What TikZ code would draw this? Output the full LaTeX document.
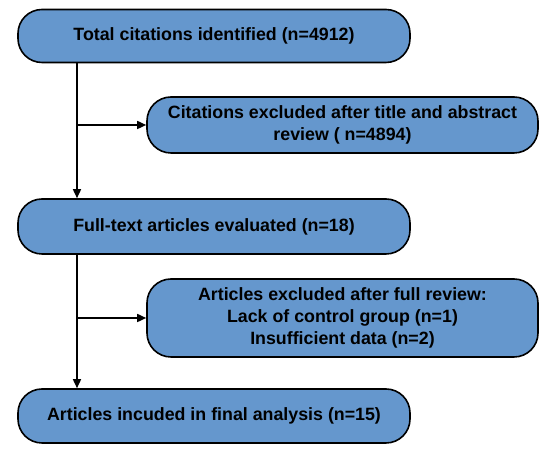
\documentclass[tikz,border=0pt]{standalone}
\usepackage{fontspec}
\setmainfont{Liberation Sans}
\usepackage{xcolor}
\usepackage{tikz}
\usetikzlibrary{arrows.meta,positioning,calc}
\definecolor{prfill}{RGB}{101,151,205}
\definecolor{predge}{RGB}{0,0,0}
\tikzset{
  prbox/.style={
    draw=predge, line width=1.6pt, rounded corners=24pt, fill=prfill,
    align=center, inner sep=3pt, font=\fontsize{17.8}{22}\selectfont\bfseries
  },
  wide/.style={prbox, minimum width=392pt},
  side/.style={prbox, minimum width=391pt},
  arr/.style={-{Triangle[length=9pt,width=8pt]}, draw=predge, line width=1.6pt},
  every picture/.append style={line join=round}
}
\begin{document}
\begin{tikzpicture}
  \useasboundingbox (0,0) rectangle (550pt,454pt);
  \node[wide, minimum height=53pt] (tot) at (214pt,418pt) {Total citations identified (n=4912)};
  \node[side, minimum height=56pt] (exa) at (342.5pt,329pt) {Citations excluded after title and abstract\\review ( n=4894)};
  \node[wide, minimum height=55pt] (full) at (214pt,227.5pt) {Full-text articles evaluated (n=18)};
  \node[side, minimum height=78pt] (exb) at (342.5pt,136pt) {Articles excluded after full review:\\Lack of control group (n=1)\\Insufficient data (n=2)};
  \node[wide, minimum height=54pt] (fin) at (214pt,38pt) {Articles incuded in final analysis (n=15)};
  \coordinate (trunk) at (77pt,0pt);
  % trunk lines with side branches
  \foreach \p/\q/\s in {tot/full/exa,full/fin/exb} {
    \draw[arr] (\p.south -| trunk) -- (\q.north -| trunk);
    \draw[arr] (trunk |- \s.west) -- (\s.west);
  }
\end{tikzpicture}
\end{document}
